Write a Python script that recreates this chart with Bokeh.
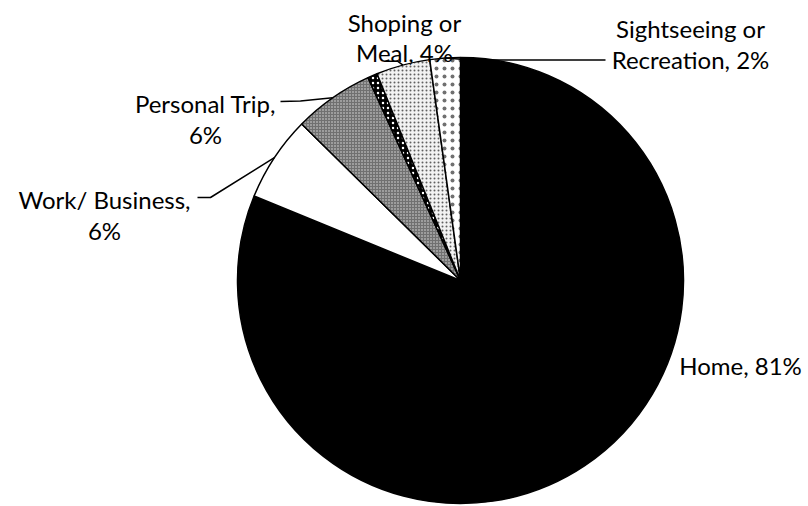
import numpy as np
from bokeh.plotting import figure
from bokeh.models import Range1d
from bokeh.core.properties import value
from bokeh.embed import file_html
from bokeh.resources import INLINE

# ---- data ----
categories = ["Home", "Work/ Business", "Personal Trip", "Other",
              "Shoping or Meal", "Sightseeing or Recreation"]
shares = [81.1, 6.2, 5.8, 0.7, 3.9, 2.2]
label_first = ["Home,", "Work/ Business,", "Personal Trip,", "", "Shoping or", "Sightseeing or"]
label_second = ["", "", "", "", "Meal,", "Recreation,"]

# ---- styles ----
fills = ["black", "white", "#707070", "black", "#f2f2f2", "white"]
hatches = [" ", " ", "dot", "dot", "dot", "dot"]
hatch_cols = ["black", "black", "#e0e0e0", "white", "#606060", "#707070"]
hatch_scales = [6, 6, 3, 5, 4, 8]
hatch_weights = [1, 1, 1.2, 1.2, 1.2, 1.0]

IMG_H = 506
def Y(img_y):
    return IMG_H - img_y

W, H = 808, 506
p = figure(width=W, height=H, x_range=Range1d(0, W), y_range=Range1d(IMG_H - H, IMG_H),
           output_backend="svg", toolbar_location=None, min_border=0)
p.axis.visible = False
p.grid.visible = False
p.outline_line_color = None
p.background_fill_color = "white"

cx, cy, R = 460, Y(280), 223
frac = np.array(shares) / sum(shares)
cum = np.concatenate([[0], np.cumsum(frac)])
start = np.pi / 2 - 2 * np.pi * cum[:-1]
end = np.pi / 2 - 2 * np.pi * cum[1:]
mid = (start + end) / 2

for i in range(len(categories)):
    kw = {}
    if hatches[i] != " ":
        kw = dict(hatch_pattern=hatches[i], hatch_color=hatch_cols[i],
                  hatch_scale=hatch_scales[i], hatch_weight=hatch_weights[i])
    p.wedge(x=[cx], y=[cy], radius=R, radius_units="screen",
            start_angle=[start[i]], end_angle=[end[i]], direction="clock",
            fill_color=fills[i], line_color="black", line_width=1.5, **kw)

# label text
pct = [f"{round(s)}%" for s in shares]
lab_x = [740, 104, 205, None, 404, 690]
lab_y1 = [365, 199, 103, None, 22, 28]
lab_gap = [0, 30.5, 30.5, 0, 29.5, 30.5]
tx, ty, tt = [], [], []
for i in range(len(categories)):
    if lab_x[i] is None:
        continue
    if i == 0:
        tx.append(lab_x[i]); ty.append(Y(lab_y1[i])); tt.append(f"{label_first[i]} {pct[i]}")
        continue
    tx.append(lab_x[i]); ty.append(Y(lab_y1[i])); tt.append(label_first[i])
    second = f"{label_second[i]} {pct[i]}".strip()
    tx.append(lab_x[i]); ty.append(Y(lab_y1[i] + lab_gap[i])); tt.append(second)
p.text(x=tx, y=ty, text=tt, text_font=value("Lato"), text_font_size="24px",
       text_align="center", text_baseline="alphabetic", text_color="black")

# leader lines
px = cx + R * np.cos(mid)
py = cy + R * np.sin(mid)
leader_x = [[197, 210, px[1]], [280, 300, px[2]], [385, 397, px[4]], [605, 470, px[5]]]
leader_y = [[Y(197), Y(197), py[1]], [Y(101), Y(100.5), py[2]],
            [Y(60.7), Y(60.7), py[4]], [Y(59.5), Y(59.5), py[5]]]
p.multi_line(xs=leader_x, ys=leader_y, line_color="black", line_width=1.5)

open("out.html", "w").write(file_html(p, INLINE))
